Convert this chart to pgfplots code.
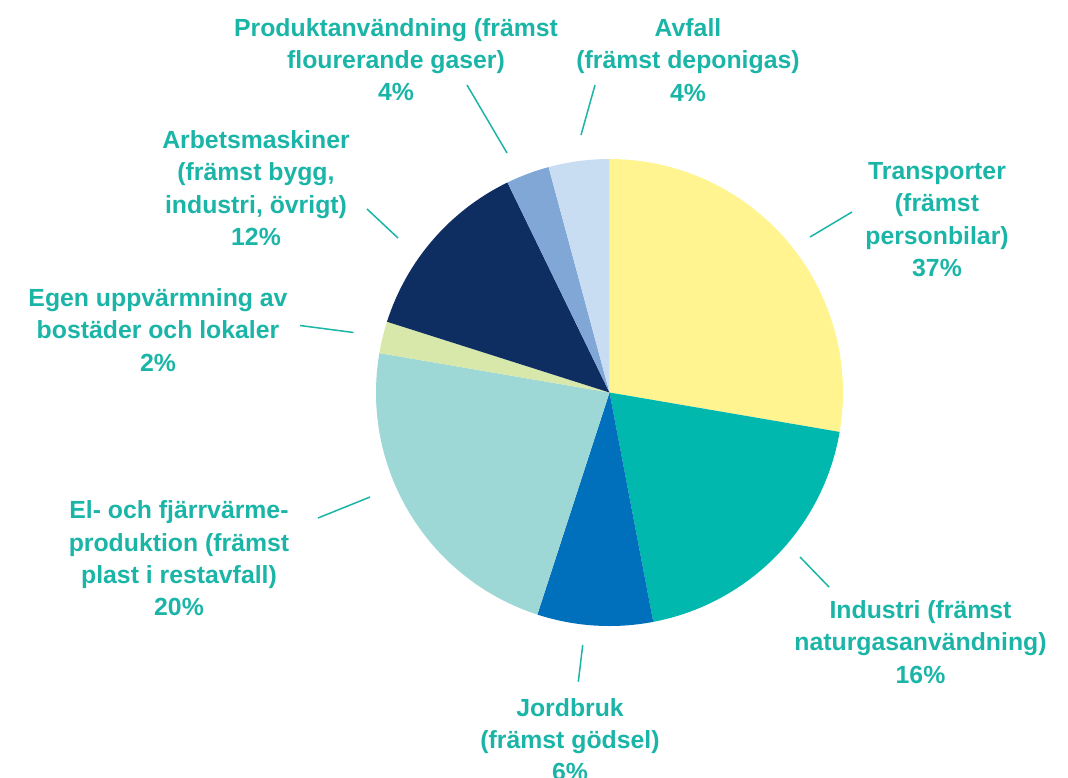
\documentclass[border=0pt]{standalone}
\usepackage{pgfplots}
\pgfplotsset{compat=1.18}
\usepackage{pgfplotstable}
\usepackage{fontspec}
\setmainfont{Liberation Sans}
\definecolor{cTrans}{HTML}{FFF48F}
\definecolor{cInd}{HTML}{00B8AE}
\definecolor{cJord}{HTML}{0070BC}
\definecolor{cEl}{HTML}{9DD8D6}
\definecolor{cEgen}{HTML}{D8E8AA}
\definecolor{cArb}{HTML}{0E2E62}
\definecolor{cProd}{HTML}{81A7D7}
\definecolor{cAvf}{HTML}{C8DDF1}
\definecolor{lab}{HTML}{1BB5A8}

% slice shares as drawn (percent of the circle), clockwise from 12 o'clock
\pgfplotstableread[col sep=comma]{
name,value,color
Transporter,27.7,cTrans
Industri,19.3,cInd
Jordbruk,8.0,cJord
El,22.7,cEl
Egen,2.2,cEgen
Arbets,12.9,cArb
Produkt,3.0,cProd
Avfall,4.2,cAvf
}\piedata

\begin{document}
\begin{tikzpicture}
\useasboundingbox (0,0) rectangle (534pt,388.5pt);
\begin{axis}[
  x=0.5pt, y=0.5pt, y dir=reverse,
  xmin=0, xmax=1068, ymin=0, ymax=777,
  hide axis, clip=false, enlargelimits=false, scale only axis,
]
\gdef\curang{90}
\pgfplotstableforeachcolumnelement{value}\of\piedata\as\v{%
  \pgfplotstablegetelem{\pgfplotstablerow}{color}\of\piedata
  \let\col\pgfplotsretval
  \pgfmathsetmacro\endang{\curang-3.6*\v}%
  \edef\doslice{\noexpand\fill[\col] (axis cs:609.5,392.5) -- ++(\curang:116.75pt) arc[start angle=\curang, end angle=\endang, radius=116.75pt] -- cycle;}%
  \doslice
  \xdef\curang{\endang}%
}
\begin{scope}[lab, line width=0.75pt]
\draw (axis cs:467,85) -- (axis cs:507,153);
\draw (axis cs:595,85) -- (axis cs:581,135);
\draw (axis cs:367,209) -- (axis cs:398,238);
\draw (axis cs:810,237) -- (axis cs:852,212);
\draw (axis cs:300,325.5) -- (axis cs:353.5,332.5);
\draw (axis cs:318,518) -- (axis cs:370,497);
\draw (axis cs:800,557) -- (axis cs:829,587);
\draw (axis cs:582.7,645) -- (axis cs:578.3,681.7);
\end{scope}
\tikzset{lbl/.style={text=lab, align=center, inner sep=0pt, font=\bfseries\fontsize{12.4}{16.15}\selectfont}}
\node[lbl] at (axis cs:396,59.5) {Produktanvändning (främst\\flourerande gaser)\\4\%};
\node[lbl] at (axis cs:688,60) {Avfall\\(främst deponigas)\\4\%};
\node[lbl] at (axis cs:256,188) {Arbetsmaskiner\\(främst bygg,\\industri, övrigt)\\12\%};
\node[lbl] at (axis cs:937,219.5) {Transporter\\(främst\\personbilar)\\37\%};
\node[lbl] at (axis cs:158,330) {Egen uppvärmning av\\bostäder och lokaler\\2\%};
\node[lbl] at (axis cs:179,558.5) {El- och fjärrvärme-\\produktion (främst\\plast i restavfall)\\20\%};
\node[lbl] at (axis cs:920.5,642) {Industri (främst\\naturgasanvändning)\\16\%};
\node[lbl] at (axis cs:570,739.5) {Jordbruk\\(främst gödsel)\\6\%};
\end{axis}
\end{tikzpicture}
\end{document}
